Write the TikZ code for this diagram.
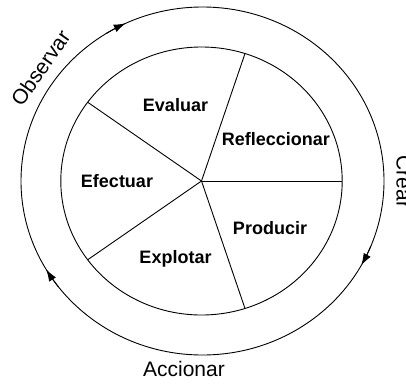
\documentclass[tikz,border=0pt]{standalone}
\usepackage{fontspec}
\setmainfont{Liberation Sans}
\usetikzlibrary{arrows.meta}
\begin{document}
\begin{tikzpicture}[x=1pt,y=-1pt,
  line width=0.9pt,
  seg/.style={font=\fontsize{18}{20}\selectfont\bfseries, anchor=base, inner sep=0pt},
  outerlabel/.style={font=\fontsize{21}{24}\selectfont, inner sep=0pt},
  tipline/.style={-{Latex[length=12pt,width=8pt]}}]
\useasboundingbox (0,0) rectangle (406,383);
% centres
\coordinate (c) at (201.5,181);
\coordinate (co) at (202.5,181);
% circles
\draw (c) ellipse [x radius=140.7, y radius=134];
\draw (co) ellipse [x radius=181.5, y radius=174];
% spokes
\foreach \a/\n in {0/s0,72/s1,144/s2,216/s3,288/s4}
  \coordinate (\n) at ({201.5+140.7*cos(\a)},{181-134*sin(\a)});
\foreach \n in {s0,s1,s2,s3,s4}
  \draw (c) -- (\n);
% arrowheads on the outer circle (clockwise)
\draw[tipline] plot[domain=122:115,samples=8] ({202.5+181.5*cos(\x)},{181-174*sin(\x)});
\draw[tipline] plot[domain=-22:-29,samples=8] ({202.5+181.5*cos(\x)},{181-174*sin(\x)});
\draw[tipline] plot[domain=217.5:210.5,samples=8] ({202.5+181.5*cos(\x)},{181-174*sin(\x)});
% sector labels
\node[seg] (evaluar) at (175.5,111) {Evaluar};
\node[seg] (refl) at (275.8,145) {Refleccionar};
\node[seg] (efect) at (117,187.7) {Efectuar};
\node[seg] (prod) at (270,234.3) {Producir};
\node[seg] (explo) at (175.5,263.3) {Explotar};
% outer labels
\node[outerlabel, rotate=55] (obs) at (40.5,68) {Observar};
\node[outerlabel, rotate=-90, anchor=base] (crear) at (396.5,182) {Crear};
\node[outerlabel, anchor=base] (acc) at (184,376.7) {Accionar};
\end{tikzpicture}
\end{document}
